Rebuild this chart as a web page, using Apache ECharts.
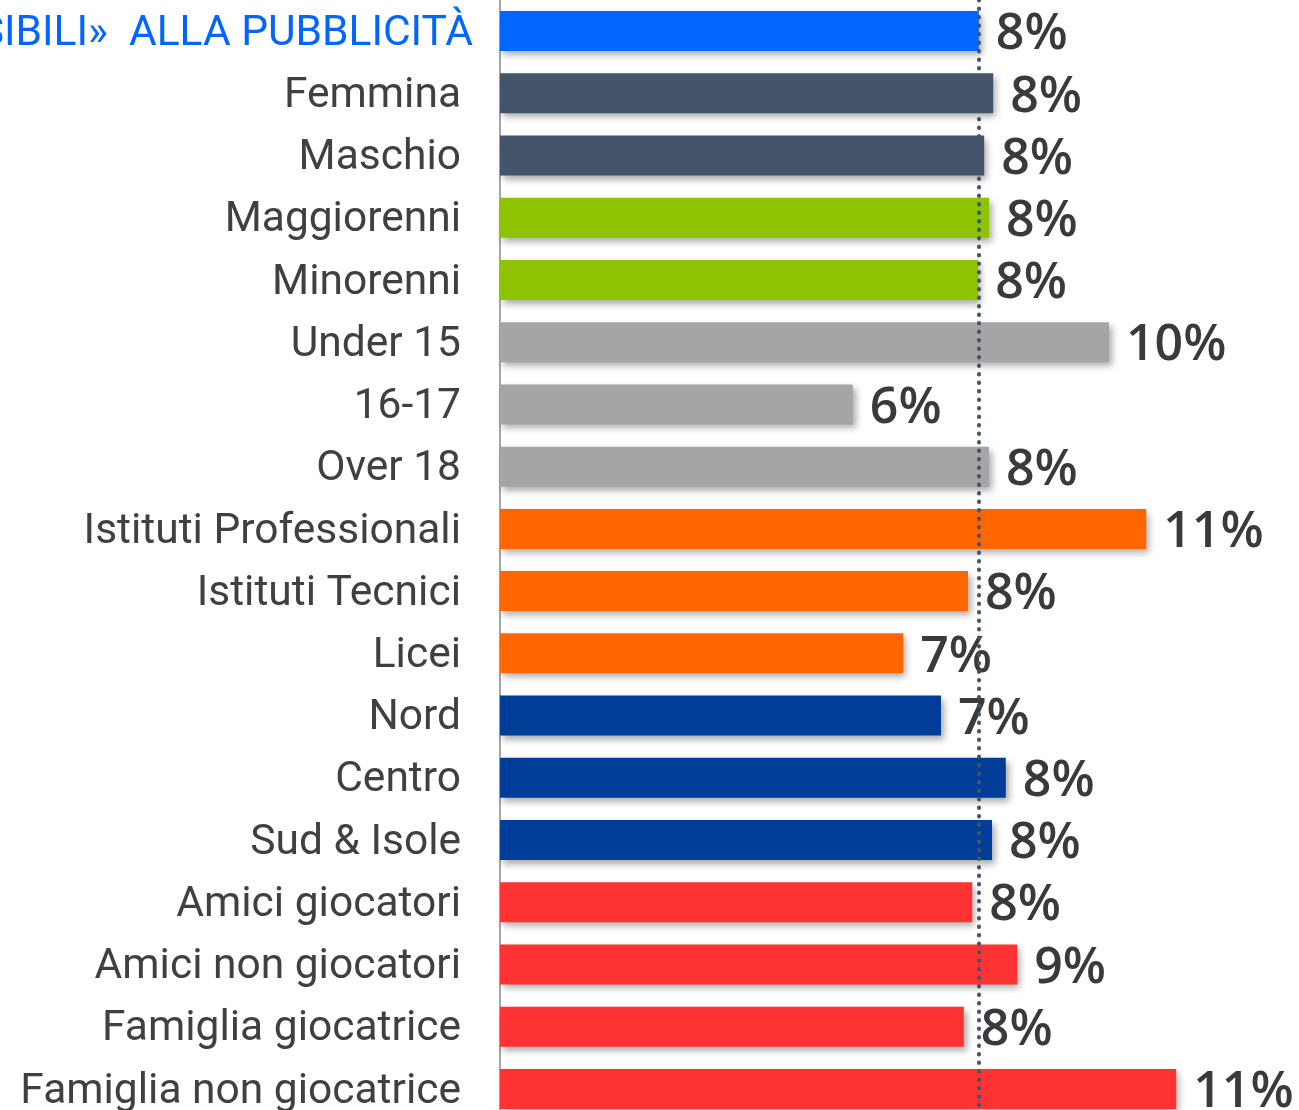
<!DOCTYPE html>
<html>
<head>
<meta charset="utf-8">
<script src="https://cdn.jsdelivr.net/npm/echarts@6/dist/echarts.min.js"></script>
<style>
  html, body { margin: 0; padding: 0; background: #fff; }
  #chart { width: 1299px; height: 1110px; }
</style>
</head>
<body>
<div id="chart"></div>
<script>
// categorie dall'alto verso il basso
const categories = [
  '«SENSIBILI»  ALLA PUBBLICITÀ', 'Femmina', 'Maschio', 'Maggiorenni', 'Minorenni',
  'Under 15', '16-17', 'Over 18', 'Istituti Professionali', 'Istituti Tecnici', 'Licei',
  'Nord', 'Centro', 'Sud & Isole', 'Amici giocatori', 'Amici non giocatori',
  'Famiglia giocatrice', 'Famiglia non giocatrice'
]
const values = [
  7.98, 8.22, 8.07, 8.15, 7.97, 10.15, 5.88, 8.15, 10.77, 7.8, 6.72,
  7.35, 8.43, 8.2, 7.87, 8.62, 7.73, 11.27
]
const barColors = [
  '#0066FF', '#44546A', '#44546A', '#8DC300', '#8DC300', '#A5A5A5', '#A5A5A5', '#A5A5A5',
  '#FF6600', '#FF6600', '#FF6600', '#003D99', '#003D99', '#003D99', '#FF3333', '#FF3333',
  '#FF3333', '#FF3333'
]
// valore di riferimento (totale) per la linea tratteggiata
const referenceValue = values[0]

const chart = echarts.init(document.getElementById('chart'))

chart.setOption({
  animation: false,
  grid: {
    left: 500,
    top: 0,
    width: 780,
    height: 1120,
    containLabel: false,
    outerBoundsMode: 'none'
  },
  xAxis: {
    type: 'value',
    min: 0,
    max: 13,
    show: false
  },
  yAxis: {
    type: 'category',
    inverse: true,
    data: categories,
    axisLine: { show: true, lineStyle: { color: '#A6A6A6', width: 2 } },
    axisTick: { show: false },
    axisLabel: {
      margin: 39,
      fontFamily: 'Roboto',
      fontSize: 42.5,
      color: '#404040',
      padding: [6, 0, 0, 0],
      formatter: (v, i) => (i === 0 ? '{hl|' + v + '}' : v),
      rich: {
        // titolo evidenziato, un po' spostato a destra
        hl: { fontFamily: 'Roboto', fontSize: 42.5, color: '#0066FF', padding: [0, -12, 0, 0] }
      }
    }
  },
  series: [{
    type: 'bar',
    barWidth: 40,
    data: values.map((v, i) => ({
      value: v,
      itemStyle: { color: barColors[i] }
    })),
    itemStyle: {
      shadowColor: 'rgba(0,0,0,0.35)',
      shadowBlur: 7,
      shadowOffsetX: 3,
      shadowOffsetY: 4
    },
    label: {
      show: true,
      position: 'right',
      distance: 17,
      offset: [0, 4],
      fontFamily: 'Open Sans',
      fontWeight: 600,
      fontSize: 50,
      color: '#3A3A3A',
      formatter: p => Math.round(p.value) + '%'
    },
    markLine: {
      silent: true,
      symbol: 'none',
      label: { show: false },
      lineStyle: { type: [0.5, 8], cap: 'round', color: '#44546A', width: 4 },
      data: [{ xAxis: referenceValue }],
      z: 10
    }
  }]
})
</script>
</body>
</html>
